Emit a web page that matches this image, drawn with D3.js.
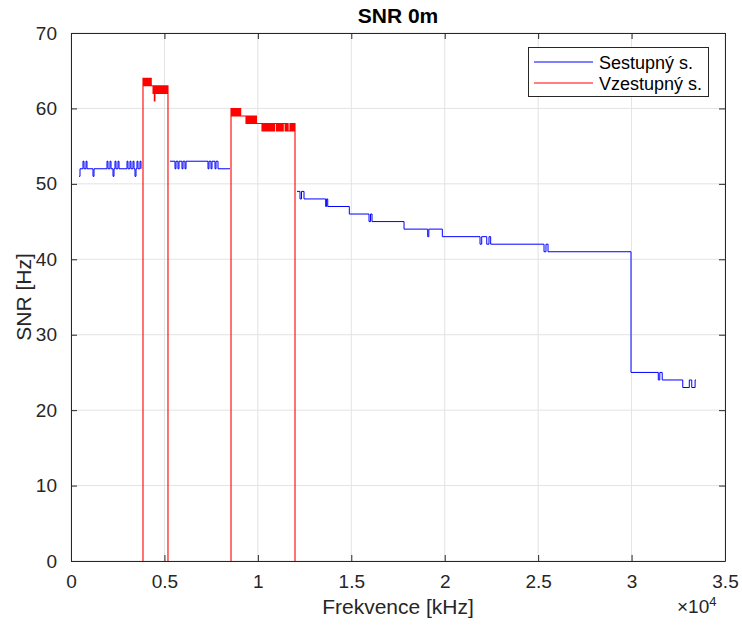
<!DOCTYPE html>
<html>
<head>
<meta charset="utf-8">
<script src="https://cdn.jsdelivr.net/npm/d3@7"></script>
<style>
  html, body { margin: 0; padding: 0; background: #fff; }
  svg { display: block; font-family: "Liberation Sans", Arial, Helvetica, sans-serif; }
</style>
</head>
<body>
<svg id="chart" width="742" height="632"></svg>
<script>
// ---- Data (frequency in Hz, SNR value); null = gap ----
const blueFreq = [
  428, 482, 642, 696, 803, 856, 1177, 1231, 1927, 1980, 2087, 2141, 2248, 2301, 2355, 2408, 2515, 2569,
  2997, 3050, 3158, 3211, 3318, 3372, 3425, 3479, 3532, 3586, 3693, 3746,
  null,
  5298, 5566, 5619, 5726, 5780, 5940, 5994, 6101, 6155, 7332, 7386, 7493, 7546, 7707, 7760, 7867, 8510,
  null,
  12095, 12256, 12336, 12470, 13630, 13680, 13740, 14895, 15948, 16030, 16110, 17822, 19090, 19150,
  19872, 21890, 21980, 22250, 22370, 22460, 25315, 25420, 25530, 29970, 31430, 31510, 31640, 32740,
  33090, 33220, 33400, 33450
];
const blueSnr = [
  51, 52, 53, 52, 53, 52, 51, 52, 53, 52, 53, 52, 51, 52, 53, 52, 53, 52,
  53, 52, 53, 52, 53, 52, 51, 52, 53, 52, 53, 52,
  null,
  53, 52, 53, 52, 53, 52, 53, 52, 53, 52, 53, 52, 53, 52, 53, 52, 52,
  null,
  49, 48, 49, 48, 47, 48, 47, 46, 45, 46, 45, 44, 43, 44,
  43, 42, 43, 42, 43, 42, 41, 42, 41, 25, 24, 25, 24, 23,
  24, 23, 24, 24
];

const redFreq = [
  3853, 3853, 3895, 3935, 3975, 4015, 4055, 4095, 4135, 4175, 4215, 4255, 4295, 4335,
  4390, 4420, 4458, 4490, 4550, 4600,
  4640, 4680, 4720, 4760, 4800, 4840, 4880, 4920, 4960, 5000, 5040, 5080, 5120, 5160, 5190, 5190,
  null,
  8563, 8563, 8600, 8640, 8680, 8720, 8760, 8800, 8840, 8880, 8920, 8960, 9000, 9040, 9080, 9100,
  9366, 9405, 9445, 9485, 9525, 9565, 9605, 9645, 9685, 9725, 9765, 9805, 9845, 9885, 9925, 9955,
  10222, 10260, 10300, 10340, 10380, 10420, 10460, 10500, 10540, 10580, 10620, 10660, 10700, 10740,
  10780, 10820, 10860, 10900, 11000, 11040, 11080, 11120, 11160, 11200, 11240, 11280, 11320, 11360,
  11460, 11500, 11540, 11580, 11620, 11720, 11760, 11800, 11840, 11880, 11920, 11960, 11988, 11988
];
const redSnr = [
  0, 64, 63, 64, 63, 64, 63, 64, 63, 64, 63, 64, 63, 63,
  62, 63, 61, 63, 62, 63,
  62, 63, 62, 63, 62, 63, 62, 63, 62, 63, 62, 63, 62, 63, 63, 0,
  null,
  0, 60, 59, 60, 59, 60, 59, 60, 59, 60, 59, 60, 59, 60, 59, 59,
  58, 59, 58, 59, 58, 59, 58, 59, 58, 59, 58, 59, 58, 59, 58, 58,
  57, 58, 57, 58, 57, 58, 57, 58, 57, 58, 57, 58, 57, 58,
  57, 58, 57, 58, 57, 58, 57, 58, 57, 58, 57, 58, 57, 58,
  57, 58, 57, 58, 57, 58, 57, 58, 57, 58, 57, 58, 57, 0
];

const xTicks = [0, 5000, 10000, 15000, 20000, 25000, 30000, 35000];
const xTickLabels = ["0", "0.5", "1", "1.5", "2", "2.5", "3", "3.5"];
const yTicks = [0, 10, 20, 30, 40, 50, 60, 70];
const seriesNames = ["Sestupný s.", "Vzestupný s."];
const seriesColors = ["#0000ff", "#ff0000"];

// ---- Layout ----
const svg = d3.select("#chart");
const L = 71, R = 725, T = 33, B = 561;
const x = d3.scaleLinear().domain([0, 35000]).range([L, R]);
const y = d3.scaleLinear().domain([0, 70]).range([B, T]);

// grid
const grid = svg.append("g").attr("stroke", "#e3e3e3").attr("stroke-width", 1);
xTicks.forEach(t => grid.append("line").attr("x1", x(t)).attr("x2", x(t)).attr("y1", T).attr("y2", B));
yTicks.forEach(t => grid.append("line").attr("x1", L).attr("x2", R).attr("y1", y(t)).attr("y2", y(t)));

// clip
svg.append("defs").append("clipPath").attr("id", "clip")
  .append("rect").attr("x", L).attr("y", T).attr("width", R - L).attr("height", B - T);

const zip = (fs, vs) => fs.map((f, i) => [f, vs[i]]);
const line = d3.line()
  .defined(d => d[0] != null && d[1] != null)
  .x(d => x(d[0])).y(d => y(d[1]))
  .curve(d3.curveStepAfter);

const plot = svg.append("g").attr("clip-path", "url(#clip)");
plot.append("path").datum(zip(blueFreq, blueSnr))
  .attr("fill", "none").attr("stroke", seriesColors[0]).attr("stroke-width", 1).attr("d", line);
plot.append("path").datum(zip(redFreq, redSnr))
  .attr("fill", "none").attr("stroke", seriesColors[1]).attr("stroke-width", 1.1).attr("d", line);

// axes
const axisColor = "#262626";
const fmtX = d => xTickLabels[xTicks.indexOf(d)];
const gx = svg.append("g").attr("transform", `translate(0,${B})`)
  .call(d3.axisBottom(x).tickValues(xTicks).tickFormat(fmtX).tickSizeInner(-6).tickSizeOuter(0).tickPadding(14));
const gxt = svg.append("g").attr("transform", `translate(0,${T})`)
  .call(d3.axisTop(x).tickValues(xTicks).tickFormat("").tickSizeInner(-6).tickSizeOuter(0));
const gy = svg.append("g").attr("transform", `translate(${L},0)`)
  .call(d3.axisLeft(y).tickValues(yTicks).tickSizeInner(-6).tickSizeOuter(0).tickPadding(14));
const gyr = svg.append("g").attr("transform", `translate(${R},0)`)
  .call(d3.axisRight(y).tickValues(yTicks).tickFormat("").tickSizeInner(-6).tickSizeOuter(0));

[gx, gxt, gy, gyr].forEach(g => {
  g.select(".domain").attr("stroke", axisColor).attr("stroke-width", 1);
  g.selectAll(".tick line").attr("stroke", axisColor);
  g.selectAll("text").attr("fill", axisColor).style("font-size", "19px")
    .style("font-family", "'Liberation Sans', Arial, sans-serif");
});
gx.selectAll("text").attr("dy", "0.71em");

// exponent label
const expo = svg.append("text").attr("x", 677).attr("y", 613).attr("fill", axisColor)
  .style("font-size", "19px");
expo.append("tspan").text("×10");
expo.append("tspan").attr("dy", -7).style("font-size", "13px").text("4");

// title
svg.append("text").attr("x", (L + R) / 2).attr("y", 23).attr("text-anchor", "middle")
  .attr("fill", "#000").style("font-size", "21px").style("font-weight", "bold").text("SNR 0m");

// axis labels
svg.append("text").attr("x", (L + R) / 2).attr("y", 614).attr("text-anchor", "middle")
  .attr("fill", axisColor).style("font-size", "21px").text("Frekvence [kHz]");
svg.append("text").attr("transform", `translate(31,${(T + B) / 2}) rotate(-90)`)
  .attr("text-anchor", "middle").attr("fill", axisColor).style("font-size", "21px").text("SNR [Hz]");

// legend
const lg = svg.append("g");
lg.append("rect").attr("x", 528.5).attr("y", 47.5).attr("width", 180).attr("height", 49)
  .attr("fill", "#fff").attr("stroke", axisColor).attr("stroke-width", 1);
seriesNames.forEach((name, i) => {
  const yy = 62 + i * 21;
  lg.append("line").attr("x1", 534).attr("x2", 593).attr("y1", yy).attr("y2", yy)
    .attr("stroke", seriesColors[i]).attr("stroke-width", 1);
  lg.append("text").attr("x", 599).attr("y", yy + 6.5).attr("fill", "#000")
    .style("font-size", "18px").text(name);
});
</script>
</body>
</html>
